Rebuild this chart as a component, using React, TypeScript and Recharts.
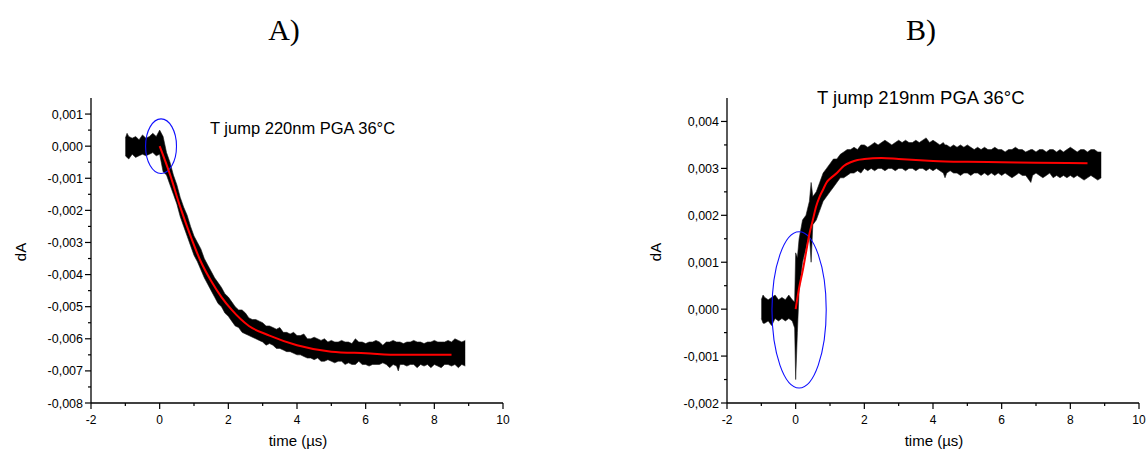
import { ComposedChart, Area, Line, XAxis, YAxis, ReferenceArea } from "recharts";

// time axis (µs) shared by both panels
const timeTicks = [-2, -1, 0, 1, 2, 3, 4, 5, 6, 7, 8, 9, 10];

const yTicksA = [
  -0.008, -0.0075, -0.007, -0.0065, -0.006, -0.0055, -0.005, -0.0045, -0.004, -0.0035,
  -0.003, -0.0025, -0.002, -0.0015, -0.001, -0.0005, 0, 0.0005, 0.001,
];
const yTicksB = [
  -0.002, -0.0015, -0.001, -0.0005, 0, 0.0005, 0.001, 0.0015, 0.002, 0.0025, 0.003, 0.0035, 0.004,
];

// measured trace envelope: [time, upper, lower]
const traceA: [number, number, number][] = [
  [-1.0, 0.00025, -0.0003], [-0.95, 0.0004, -0.00035], [-0.9, 0.0003, -0.0004], [-0.8, 0.00025, -0.00025],
  [-0.7, 0.0003, -0.00035], [-0.6, 0.0002, -0.0003], [-0.5, 0.00035, -0.00025], [-0.4, 0.00025, -0.0003],
  [-0.3, 0.0003, -0.00025], [-0.2, 0.0004, -0.0002], [-0.1, 0.0003, -0.0003], [0.0, 0.0005, -0.00025],
  [0.1, 0.0003, -0.0008], [0.2, -0.0002, -0.0009], [0.3, -0.0005, -0.0012], [0.4, -0.0009, -0.0015],
  [0.5, -0.0012, -0.0018], [0.6, -0.0016, -0.0022], [0.7, -0.0019, -0.0025], [0.8, -0.00215, -0.0028],
  [0.9, -0.0025, -0.0031], [1.0, -0.0028, -0.0034], [1.1, -0.003, -0.0036], [1.2, -0.0032, -0.00385],
  [1.3, -0.0035, -0.0041], [1.4, -0.0037, -0.0043], [1.5, -0.0039, -0.0045], [1.6, -0.0041, -0.0047],
  [1.7, -0.00425, -0.0049], [1.8, -0.0044, -0.005], [1.9, -0.0046, -0.0052], [2.0, -0.0047, -0.0053],
  [2.1, -0.00485, -0.00545], [2.2, -0.005, -0.0056], [2.3, -0.0051, -0.00565], [2.4, -0.0051, -0.0058],
  [2.5, -0.0052, -0.00585], [2.6, -0.00535, -0.0059], [2.7, -0.0054, -0.00595], [2.8, -0.0054, -0.006],
  [2.9, -0.00545, -0.00605], [3.0, -0.0055, -0.0061], [3.1, -0.0056, -0.0062], [3.2, -0.0056, -0.00615],
  [3.3, -0.00565, -0.0062], [3.4, -0.0057, -0.0063], [3.5, -0.00565, -0.0063], [3.6, -0.0058, -0.00635],
  [3.7, -0.0058, -0.0064], [3.8, -0.00585, -0.0064], [3.9, -0.0058, -0.00645], [4.0, -0.0059, -0.0065],
  [4.1, -0.0059, -0.0065], [4.2, -0.00585, -0.00655], [4.3, -0.006, -0.0066], [4.4, -0.006, -0.0066],
  [4.5, -0.00595, -0.00665], [4.6, -0.006, -0.0066], [4.7, -0.00605, -0.0067], [4.8, -0.006, -0.0067],
  [4.9, -0.0061, -0.00665], [5.0, -0.00605, -0.0067], [5.1, -0.0061, -0.00675], [5.2, -0.0061, -0.0067],
  [5.3, -0.00605, -0.0067], [5.4, -0.0061, -0.0068], [5.5, -0.0061, -0.00675], [5.6, -0.00615, -0.0068],
  [5.7, -0.006, -0.0068], [5.8, -0.0061, -0.0067], [5.9, -0.0061, -0.0068], [6.0, -0.00615, -0.0068],
  [6.1, -0.0061, -0.00685], [6.2, -0.0061, -0.0068], [6.3, -0.00605, -0.0068], [6.4, -0.0061, -0.0068],
  [6.5, -0.0062, -0.00675], [6.6, -0.0061, -0.0068], [6.7, -0.0061, -0.0069], [6.8, -0.00605, -0.0068],
  [6.9, -0.0061, -0.00685], [6.95, -0.0061, -0.007], [7.0, -0.0061, -0.0068], [7.1, -0.00615, -0.0068],
  [7.2, -0.0061, -0.00685], [7.3, -0.0061, -0.0068], [7.4, -0.00605, -0.0068], [7.5, -0.0061, -0.0069],
  [7.6, -0.0061, -0.0068], [7.7, -0.00615, -0.00685], [7.8, -0.0061, -0.0068], [7.9, -0.0061, -0.0069],
  [8.0, -0.00605, -0.0068], [8.1, -0.0061, -0.00685], [8.2, -0.0061, -0.0069], [8.3, -0.0061, -0.0068],
  [8.4, -0.00605, -0.0068], [8.5, -0.0061, -0.00685], [8.6, -0.006, -0.0068], [8.7, -0.00605, -0.0069],
  [8.8, -0.0061, -0.0068], [8.9, -0.00605, -0.00685],
];

// fitted curve: [time, dA]
const fitA: [number, number][] = [
  [0, 0], [0.3, -0.00088], [0.6, -0.0019], [0.9, -0.0028], [1.2, -0.0036], [1.5, -0.0042],
  [1.8, -0.0047], [2.1, -0.0051], [2.6, -0.0056], [3.2, -0.0059], [4.0, -0.0062], [5.0, -0.0064],
  [6.0, -0.00645], [7.0, -0.0065], [8.5, -0.0065],
];

const traceB: [number, number, number][] = [
  [-1.0, 0.0002, -0.0002], [-0.95, 0.0003, -0.0003], [-0.9, 0.00025, -0.0003], [-0.8, 0.0002, -0.00025],
  [-0.7, 0.00025, -0.00035], [-0.6, 0.0003, -0.0002], [-0.5, 0.0002, -0.00025], [-0.4, 0.00025, -0.0002],
  [-0.3, 0.0002, -0.00025], [-0.2, 0.0003, -0.0002], [-0.1, 0.0002, -0.00025], [-0.03, 0.00015, -0.0004],
  [0.0, 0.0012, -0.0015], [0.05, 0.0011, -0.0005], [0.1, 0.0015, 0.0004], [0.2, 0.0019, 0.001],
  [0.3, 0.002, 0.0013], [0.4, 0.0023, 0.0016], [0.45, 0.0027, 0.001], [0.5, 0.0024, 0.0018],
  [0.6, 0.0025, 0.0019], [0.7, 0.0027, 0.0021], [0.8, 0.0029, 0.0023], [0.9, 0.003, 0.0024],
  [1.0, 0.0031, 0.0025], [1.1, 0.0032, 0.0026], [1.2, 0.0032, 0.0027], [1.3, 0.0033, 0.0028],
  [1.4, 0.00335, 0.0028], [1.5, 0.0034, 0.00285], [1.6, 0.0034, 0.0029], [1.7, 0.00345, 0.0029],
  [1.8, 0.0034, 0.00295], [1.9, 0.0035, 0.0029], [2.0, 0.0035, 0.003], [2.1, 0.00345, 0.00295],
  [2.2, 0.0035, 0.003], [2.3, 0.00355, 0.00295], [2.4, 0.0035, 0.003], [2.5, 0.00355, 0.003],
  [2.6, 0.0036, 0.00295], [2.7, 0.00355, 0.003], [2.8, 0.0035, 0.003], [2.9, 0.00355, 0.00295],
  [3.0, 0.0036, 0.003], [3.1, 0.00355, 0.003], [3.2, 0.0036, 0.00295], [3.3, 0.00355, 0.003],
  [3.4, 0.00355, 0.0030], [3.5, 0.0036, 0.00295], [3.6, 0.00355, 0.003], [3.7, 0.0036, 0.003],
  [3.8, 0.00365, 0.00295], [3.9, 0.00355, 0.003], [4.0, 0.0036, 0.00295], [4.1, 0.00355, 0.003],
  [4.2, 0.0035, 0.00295], [4.3, 0.00355, 0.0029], [4.35, 0.0035, 0.0028], [4.4, 0.0035, 0.0029],
  [4.5, 0.00345, 0.00295], [4.6, 0.0035, 0.0029], [4.7, 0.00345, 0.0029], [4.8, 0.0035, 0.00285],
  [4.9, 0.00345, 0.0029], [5.0, 0.0035, 0.0029], [5.1, 0.00345, 0.00285], [5.2, 0.0034, 0.0029],
  [5.3, 0.00345, 0.0029], [5.4, 0.0034, 0.00285], [5.5, 0.00345, 0.0029], [5.6, 0.0034, 0.00285],
  [5.7, 0.0034, 0.0029], [5.8, 0.00345, 0.00285], [5.9, 0.0034, 0.0029], [6.0, 0.0034, 0.00285],
  [6.1, 0.00335, 0.0029], [6.2, 0.0034, 0.00285], [6.3, 0.0034, 0.0028], [6.4, 0.00345, 0.00285],
  [6.5, 0.0034, 0.0029], [6.6, 0.0034, 0.00285], [6.7, 0.00335, 0.00285], [6.85, 0.0034, 0.0027],
  [6.9, 0.0034, 0.00285], [7.0, 0.00335, 0.0029], [7.1, 0.0034, 0.00285], [7.2, 0.0034, 0.0028],
  [7.3, 0.00335, 0.00285], [7.4, 0.0034, 0.0029], [7.5, 0.0034, 0.0028], [7.6, 0.00335, 0.00285],
  [7.7, 0.0034, 0.0028], [7.8, 0.00335, 0.00285], [7.9, 0.0034, 0.0028], [8.0, 0.00345, 0.00285],
  [8.1, 0.0034, 0.0028], [8.2, 0.00335, 0.00285], [8.3, 0.0034, 0.0028], [8.4, 0.0034, 0.00275],
  [8.5, 0.00335, 0.0028], [8.6, 0.0034, 0.00285], [8.7, 0.0034, 0.0028], [8.8, 0.00335, 0.00275],
  [8.9, 0.00335, 0.0028],
];

const fitB: [number, number][] = [
  [0, 0], [0.1, 0.00045], [0.2, 0.0008], [0.3, 0.0012], [0.4, 0.0016], [0.5, 0.0019], [0.6, 0.0022],
  [0.7, 0.0024], [0.8, 0.00255], [0.9, 0.0027], [1.0, 0.00278], [1.2, 0.0029], [1.4, 0.00305],
  [1.6, 0.00313], [1.8, 0.00318], [2.0, 0.0032], [2.5, 0.00322], [3.0, 0.0032], [3.5, 0.00318],
  [4.0, 0.00316], [5.0, 0.00314], [6.0, 0.00313], [7.0, 0.00312], [8.5, 0.00311],
];

// circled regions: [t1, t2, y1, y2]
const circleA = [-0.41, 0.49, -0.00085, 0.00085];
const circleB = [-0.69, 0.89, -0.00168, 0.00165];

const FONT = "'Liberation Sans', Arial, sans-serif";
const TICK = 6;
const MINOR = 3;
const GAP_Y = 2;
const GAP_X = 6;

function buildRows(trace: [number, number, number][], fit: [number, number][]) {
  const map = new Map<number, any>();
  trace.forEach(([t, hi, lo]) => map.set(t, { t, band: [lo, hi] }));
  fit.forEach(([t, v]) => {
    const row = map.get(t) ?? { t };
    row.fit = v;
    map.set(t, row);
  });
  return [...map.values()].sort((a, b) => a.t - b.t);
}

const isMajorY = (v: number) => Math.abs(v * 1000 - Math.round(v * 1000)) < 1e-6;
const fmtY = (v: number) => (Math.abs(v) < 1e-9 ? 0 : v).toFixed(3).replace(".", ",");

const YTick = ({ x, y, payload }: any) => {
  const major = isMajorY(payload.value);
  const ax = x + TICK + GAP_Y;
  return (
    <g>
      <line x1={ax - (major ? TICK : MINOR)} x2={ax} y1={y} y2={y} stroke="#000" strokeWidth={1.2} />
      {major && (
        <text x={x} y={y} dy="0.36em" textAnchor="end" fontSize={12.5} fontFamily={FONT} fill="#000">
          {fmtY(payload.value)}
        </text>
      )}
    </g>
  );
};

const XTick = ({ x, y, payload }: any) => {
  const major = payload.value % 2 === 0;
  const ay = y - TICK - GAP_X;
  return (
    <g>
      <line x1={x} x2={x} y1={ay} y2={ay + (major ? TICK : MINOR)} stroke="#000" strokeWidth={1.2} />
      {major && (
        <text x={x} y={y} dy="0.72em" textAnchor="middle" fontSize={12} fontFamily={FONT} fill="#000">
          {payload.value}
        </text>
      )}
    </g>
  );
};

const Ellipse = (p: any) => (
  <ellipse
    cx={p.x + p.width / 2}
    cy={p.y + p.height / 2}
    rx={Math.abs(p.width) / 2}
    ry={Math.abs(p.height) / 2}
    fill="none"
    stroke="#1010ff"
    strokeWidth={1.1}
  />
);

function Panel({ rows, ticks, domain, circle, width, right }: any) {
  return (
    <ComposedChart width={width} height={453} data={rows} margin={{ top: 98, right, bottom: 0, left: 0 }}>
      <XAxis
        dataKey="t"
        type="number"
        domain={[-2, 10]}
        ticks={timeTicks}
        allowDataOverflow
        height={50}
        tickSize={TICK}
        tickMargin={GAP_X}
        tickLine={false}
        tick={<XTick />}
        axisLine={{ stroke: "#000", strokeWidth: 1.3 }}
      />
      <YAxis
        type="number"
        domain={domain}
        ticks={ticks}
        allowDataOverflow
        width={91}
        tickSize={TICK}
        tickMargin={GAP_Y}
        tickLine={false}
        tick={<YTick />}
        axisLine={{ stroke: "#000", strokeWidth: 1.3 }}
        interval={0}
      />
      <Area
        dataKey="band"
        type="linear"
        stroke="#1a1a1a"
        strokeWidth={0.6}
        fill="#000"
        fillOpacity={1}
        connectNulls
        dot={false}
        activeDot={false}
        isAnimationActive={false}
      />
      <Line
        dataKey="fit"
        type="monotone"
        stroke="#ff0000"
        strokeWidth={2}
        dot={false}
        activeDot={false}
        connectNulls
        isAnimationActive={false}
      />
      <ReferenceArea
        x1={circle[0]}
        x2={circle[1]}
        y1={circle[2]}
        y2={circle[3]}
        shape={Ellipse}
        ifOverflow="visible"
      />
    </ComposedChart>
  );
}

export default function App() {
  const rowsA = buildRows(traceA, fitA);
  const rowsB = buildRows(traceB, fitB);
  const txt = { fontFamily: FONT, fill: "#000" };
  return (
    <div style={{ position: "absolute", left: 0, top: 0, width: 1147, height: 453, background: "#fff", overflow: "hidden" }}>
      <div style={{ position: "absolute", left: 0, top: 0 }}>
        <Panel rows={rowsA} ticks={yTicksA} domain={[-0.008, 0.0015]} circle={circleA} width={560} right={57} />
      </div>
      <div style={{ position: "absolute", left: 636, top: 0 }}>
        <Panel rows={rowsB} ticks={yTicksB} domain={[-0.002, 0.0045]} circle={circleB} width={511} right={8} />
      </div>
      <svg width={1147} height={453} style={{ position: "absolute", left: 0, top: 0, pointerEvents: "none" }}>
        <text x={284} y={40} textAnchor="middle" fontSize={30} fontFamily="'Liberation Serif', serif" fill="#000">A)</text>
        <text x={921} y={40} textAnchor="middle" fontSize={30} fontFamily="'Liberation Serif', serif" fill="#000">B)</text>
        <text x={210} y={134} fontSize={16.5} {...txt}>T jump 220nm PGA 36°C</text>
        <text x={817} y={104} fontSize={18.5} {...txt}>T jump 219nm PGA 36°C</text>
        <text x={20} y={252} fontSize={15} textAnchor="middle" dominantBaseline="central" transform="rotate(-90 20 252)" {...txt}>dA</text>
        <text x={655} y={252} fontSize={15} textAnchor="middle" dominantBaseline="central" transform="rotate(-90 655 252)" {...txt}>dA</text>
        <text x={298} y={446} fontSize={15} textAnchor="middle" {...txt}>time (µs)</text>
        <text x={934} y={446} fontSize={15} textAnchor="middle" {...txt}>time (µs)</text>
      </svg>
    </div>
  );
}
